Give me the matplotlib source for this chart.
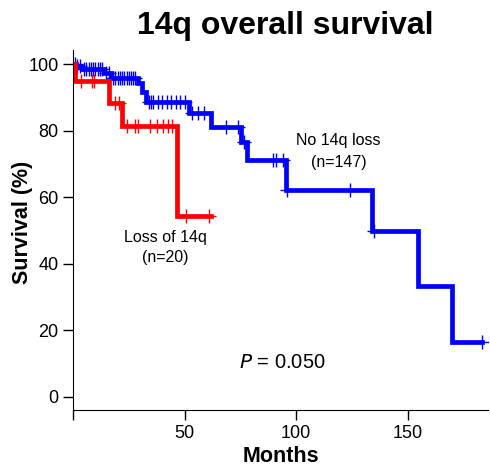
import numpy as np
import matplotlib.pyplot as plt

plt.rcParams['font.family'] = ['Liberation Sans', 'DejaVu Sans']

# Kaplan-Meier steps (months, survival %)
no_loss_t = [0, 1.5, 4, 14, 17, 29, 31, 32.5, 52, 62, 75.5, 78, 95.5, 134, 154.5, 170, 183.5]
no_loss_s = [100, 99.3, 98.6, 97.2, 95.8, 94.4, 91.5, 88.6, 85.3, 81.2, 76.5, 71.1, 62.2, 49.8, 33.2, 16.6, 16.6]
no_loss_cens_t = [1, 2, 3, 5, 6, 7, 8, 9, 10, 11, 12, 13,
                  15, 16, 18, 19, 20, 21, 22, 23, 24, 25, 26, 27, 28,
                  34, 35, 36, 38, 40, 42, 44, 46, 48, 50,
                  53.5, 56, 58.5, 68.5, 74, 76.5, 89.5, 91, 94, 96,
                  124, 135, 183.5]

loss_t = [0, 1, 16, 22, 46.8, 61.7]
loss_s = [100, 95, 88.3, 81.4, 54.3, 54.3]
loss_cens_t = [3.8, 8.3, 9.5, 19, 20.5, 24, 28, 29, 34.5, 37.5, 40.5, 42.5, 44.5, 50.5, 61]


def surv_at(t_list, s_list, t):
    idx = np.searchsorted(t_list, t, side='right') - 1
    return np.array(s_list)[idx]


fig = plt.figure(figsize=(4.9, 4.68), dpi=100)
ax = fig.add_axes([0.149, 0.124, 0.847, 0.769])

ax.step(no_loss_t, no_loss_s, where='post', color='blue', lw=3.4, solid_joinstyle='miter')
ax.plot(no_loss_cens_t, surv_at(no_loss_t, no_loss_s, no_loss_cens_t), ls='none',
        marker='+', ms=10, mew=1.0, color='blue')
ax.step(loss_t, loss_s, where='post', color='red', lw=3.4, solid_joinstyle='miter')
ax.plot(loss_cens_t, surv_at(loss_t, loss_s, loss_cens_t), ls='none',
        marker='+', ms=10, mew=1.0, color='red')

ax.text(119, 77, 'No 14q loss', ha='center', va='center', fontsize=11.5)
ax.text(119, 70.5, '(n=147)', ha='center', va='center', fontsize=11.5)
ax.text(41.5, 48, 'Loss of 14q', ha='center', va='center', fontsize=11.5)
ax.text(41.5, 42, '(n=20)', ha='center', va='center', fontsize=11.5)
ax.text(94, 10.5, r'$\it{P}$ = 0.050', ha='center', va='center', fontsize=14.5)

ax.set_xlim(0, 186)
ax.set_ylim(-3.9, 104.2)
ax.set_xticks([0, 50, 100, 150])
ax.set_xticklabels(['', '50', '100', '150'])
ax.set_yticks([0, 20, 40, 60, 80, 100])
ax.tick_params(direction='out', length=7, width=1, labelsize=13)
for s in ['top', 'right']:
    ax.spines[s].set_visible(False)

ax.set_xlabel('Months', fontsize=15.5, fontweight='bold', labelpad=3)
ax.set_ylabel('Survival (%)', fontsize=15.5, fontweight='bold')
ax.yaxis.set_label_coords(-0.097, 0.52)
fig.text(0.582, 0.945, '14q overall survival', ha='center', va='center',
         fontsize=23, fontweight='bold')

plt.savefig('out.png')
